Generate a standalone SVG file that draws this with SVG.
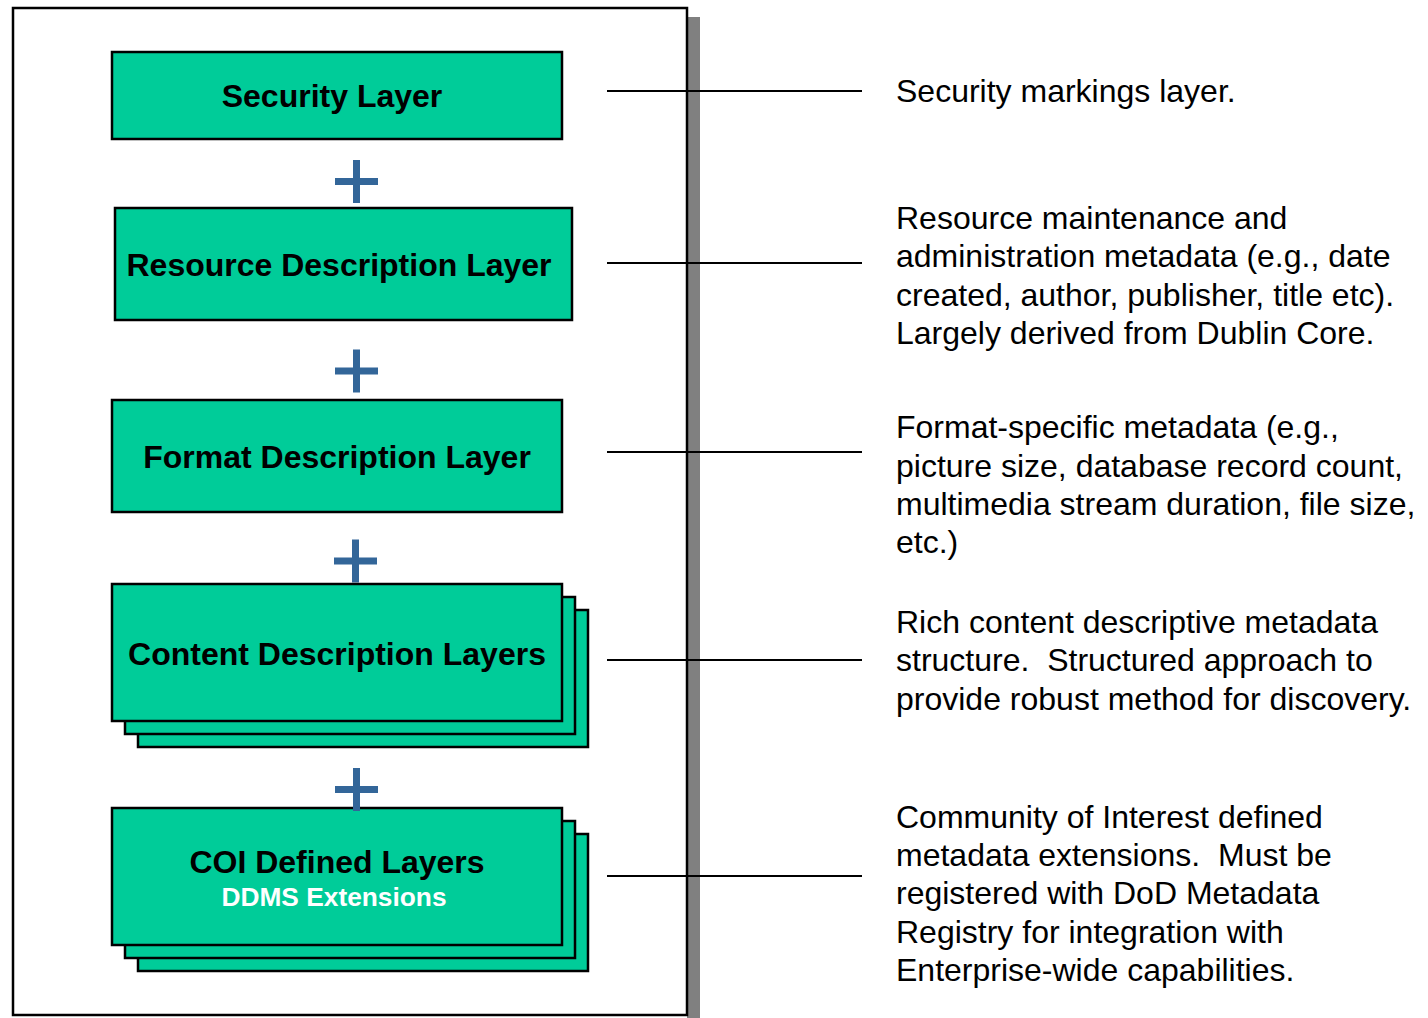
<svg xmlns="http://www.w3.org/2000/svg" width="1428" height="1018" viewBox="0 0 1428 1018">
<style>
.box{fill:#00CC99;stroke:#000;stroke-width:2.5}
.lbl{font-family:"Liberation Sans",Arial,sans-serif;font-weight:bold;font-size:32px;fill:#000;text-anchor:middle}
.sub{font-family:"Liberation Sans",Arial,sans-serif;font-weight:bold;font-size:26.3px;fill:#fff;text-anchor:middle}
.desc{font-family:"Liberation Sans",Arial,sans-serif;font-size:32px;fill:#000}
.plus{fill:#336699}
.conn{stroke:#000;stroke-width:2;fill:none}
</style>
<defs>
<path id="plus" class="plus" d="M-3.5,-21.5h7v18h18v7h-18v18h-7v-18h-18v-7h18z"/>
</defs>
<rect x="0" y="0" width="1428" height="1018" fill="#fff"/>
<g id="frame">
<rect x="687" y="17" width="13" height="1001" fill="#808080"/>
<rect x="13" y="8" width="674" height="1007" fill="#fff" stroke="#000" stroke-width="2.5"/>
</g>
<g id="connectors">
<line class="conn" x1="607" y1="91" x2="862" y2="91"/>
<line class="conn" x1="607" y1="263" x2="862" y2="263"/>
<line class="conn" x1="607" y1="452" x2="862" y2="452"/>
<line class="conn" x1="607" y1="660" x2="862" y2="660"/>
<line class="conn" x1="607" y1="876" x2="862" y2="876"/>
</g>
<g id="security">
<rect class="box" x="112" y="52" width="450" height="87"/>
<text class="lbl" x="332" y="107">Security Layer</text>
</g>
<g id="plus1"><use href="#plus" x="356.5" y="181.5"/></g>
<g id="resource">
<rect class="box" x="115" y="208" width="457" height="112"/>
<text class="lbl" x="339" y="276">Resource Description Layer</text>
</g>
<g id="plus2"><use href="#plus" x="356.5" y="371"/></g>
<g id="format">
<rect class="box" x="112" y="400" width="450" height="112"/>
<text class="lbl" x="337" y="468">Format Description Layer</text>
</g>
<g id="plus3"><use href="#plus" x="355.5" y="561"/></g>
<g id="content">
<rect class="box" x="138" y="610" width="450" height="137"/>
<rect class="box" x="125" y="597" width="450" height="137"/>
<rect class="box" x="112" y="584" width="450" height="137"/>
<text class="lbl" x="337" y="665">Content Description Layers</text>
</g>
<g id="coi">
<rect class="box" x="138" y="834" width="450" height="137"/>
<rect class="box" x="125" y="821" width="450" height="137"/>
<rect class="box" x="112" y="808" width="450" height="137"/>
<text class="lbl" x="337" y="873">COI Defined Layers</text>
<text class="sub" x="334" y="906">DDMS Extensions</text>
</g>
<g id="plus4"><use href="#plus" x="356.5" y="789.5"/></g>
<g id="desc-security">
<text class="desc" x="896" y="102">Security markings layer.</text>
</g>
<g id="desc-resource">
<text class="desc" x="896" y="229">Resource maintenance and</text>
<text class="desc" x="896" y="267">administration metadata (e.g., date</text>
<text class="desc" x="896" y="306">created, author, publisher, title etc).</text>
<text class="desc" x="896" y="344">Largely derived from Dublin Core.</text>
</g>
<g id="desc-format">
<text class="desc" x="896" y="438">Format-specific metadata (e.g.,</text>
<text class="desc" x="896" y="477">picture size, database record count,</text>
<text class="desc" x="896" y="515">multimedia stream duration, file size,</text>
<text class="desc" x="896" y="553">etc.)</text>
</g>
<g id="desc-content">
<text class="desc" x="896" y="633">Rich content descriptive metadata</text>
<text class="desc" x="896" y="671" xml:space="preserve">structure.  Structured approach to</text>
<text class="desc" x="896" y="710">provide robust method for discovery.</text>
</g>
<g id="desc-coi">
<text class="desc" x="896" y="828">Community of Interest defined</text>
<text class="desc" x="896" y="866" xml:space="preserve">metadata extensions.  Must be</text>
<text class="desc" x="896" y="904">registered with DoD Metadata</text>
<text class="desc" x="896" y="943">Registry for integration with</text>
<text class="desc" x="896" y="981">Enterprise-wide capabilities.</text>
</g>
</svg>
